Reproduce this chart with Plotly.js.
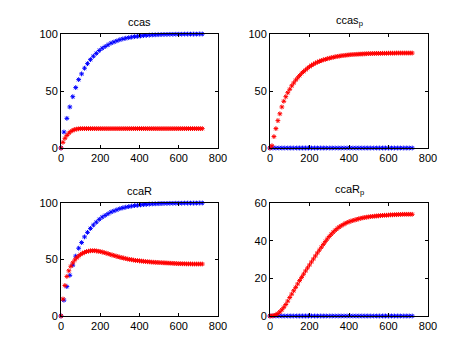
<!DOCTYPE html>
<html>
<head>
<meta charset="utf-8">
<script src="https://cdn.plot.ly/plotly-3.0.1.min.js"></script>
<style>html,body{margin:0;padding:0;background:#fff;}#chart{width:474px;height:355px;}</style>
</head>
<body>
<div id="chart"></div>
<script>
var tBlue = [0,15,30,45,60,75,90,105,120,135,150,165,180,195,210,225,240,255,270,285,300,315,330,345,360,375,390,405,420,435,450,465,480,495,510,525,540,555,570,585,600,615,630,645,660,675,690,705,720];
var tRed = [0,10,20,30,40,50,60,70,80,90,100,110,120,130,140,150,160,170,180,190,200,210,220,230,240,250,260,270,280,290,300,310,320,330,340,350,360,370,380,390,400,410,420,430,440,450,460,470,480,490,500,510,520,530,540,550,560,570,580,590,600,610,620,630,640,650,660,670,680,690,700,710,720];

var ccasBlue = [0,14,26,36,45,53,60,65,70,74,77.5,80.5,83,85.5,87.5,89,90.5,92,93,94,95,95.7,96.3,96.8,97.3,97.7,98,98.3,98.6,98.8,99,99.2,99.3,99.4,99.5,99.6,99.6,99.7,99.7,99.8,99.8,99.8,99.9,99.9,99.9,99.9,99.9,100,100];
var ccasRed = [0,5,8.5,11,13,14.5,15.5,16.2,16.6,16.8,17,17,17,17,17,17,17,17,17,17,17,17,17,17,17,17,17,17,17,17,17,17,17,17,17,17,17,17,17,17,17,17,17,17,17,17,17,17,17,17,17,17,17,17,17,17,17,17,17,17,17,17,17,17,17,17,17,17,17,17,17,17,17];

var ccasPBlue = [0,0,0,0,0,0,0,0,0,0,0,0,0,0,0,0,0,0,0,0,0,0,0,0,0,0,0,0,0,0,0,0,0,0,0,0,0,0,0,0,0,0,0,0,0,0,0,0,0];
var ccasPRed = [0,2,10,17,24,30,36,41,45,48.5,51.5,54.5,57,59.5,61.5,63.5,65.5,67,68.5,70,71.3,72.5,73.5,74.5,75.3,76,76.7,77.3,77.8,78.3,78.8,79.2,79.6,80,80.3,80.6,80.9,81.1,81.3,81.5,81.7,81.9,82,82.1,82.2,82.3,82.4,82.5,82.6,82.7,82.8,82.8,82.9,82.9,83,83,83,83.1,83.1,83.1,83.2,83.2,83.2,83.2,83.3,83.3,83.3,83.3,83.3,83.3,83.3,83.3,83.3];

var ccaRBlue = [0,14,26,36,45,53,60,65,70,74,77.5,80.5,83,85.5,87.5,89,90.5,92,93,94,95,95.7,96.3,96.8,97.3,97.7,98,98.3,98.6,98.8,99,99.2,99.3,99.4,99.5,99.6,99.6,99.7,99.7,99.8,99.8,99.8,99.9,99.9,99.9,99.9,99.9,100,100];
var ccaRRed = [0,15,27,35,40,44,47,49.5,51.5,53,54.5,55.5,56.3,57,57.4,57.7,57.8,57.8,57.6,57.3,57,56.6,56.1,55.6,55.1,54.5,54,53.5,53,52.5,52,51.6,51.2,50.8,50.4,50.1,49.8,49.5,49.2,49,48.8,48.6,48.4,48.2,48,47.9,47.7,47.6,47.5,47.4,47.3,47.2,47.1,47,46.9,46.8,46.7,46.6,46.5,46.4,46.3,46.3,46.2,46.2,46.1,46.1,46.1,46,46,46,46,46,46];

var ccaRPBlue = [0,0,0,0,0,0,0,0,0,0,0,0,0,0,0,0,0,0,0,0,0,0,0,0,0,0,0,0,0,0,0,0,0,0,0,0,0,0,0,0,0,0,0,0,0,0,0,0,0];
var ccaRPRed = [0,0.1,0.3,0.7,1.3,2.2,3.3,4.6,6.1,7.9,9.8,11.6,13.4,15.2,17,18.8,20.5,22.2,23.9,25.5,27.1,28.7,30.3,31.9,33.5,35,36.5,38,39.5,40.9,42.2,43.4,44.5,45.5,46.4,47.2,47.9,48.5,49.1,49.6,50,50.4,50.7,51,51.3,51.6,51.9,52.1,52.3,52.5,52.6,52.8,52.9,53,53.1,53.2,53.3,53.4,53.5,53.5,53.6,53.7,53.7,53.8,53.8,53.9,53.9,54,54,54,54,54,54];

var titles = ['ccas', 'ccas<sub>p</sub>', 'ccaR', 'ccaR<sub>p</sub>'];
var xTicks = [0,200,400,600,800];

var W = 474, H = 355;
function px(v){return v/W;}
function py(v){return 1 - v/H;}
var xDom = [[px(61), px(218)], [px(270), px(428)], [px(61), px(218)], [px(270), px(428)]];
var yDom = [[py(148), py(34)], [py(148), py(34)], [py(316), py(203)], [py(316), py(203)]];
var yRanges = [[0,100],[0,100],[0,100],[0,60]];
var yTicks = [[0,50,100],[0,50,100],[0,50,100],[0,20,40,60]];

var blues = [ccasBlue, ccasPBlue, ccaRBlue, ccaRPBlue];
var reds = [ccasRed, ccasPRed, ccaRRed, ccaRPRed];

var traces = [];
var layout = {
  width: W, height: H,
  margin: {l:0, r:0, t:0, b:0},
  paper_bgcolor: '#ffffff', plot_bgcolor: '#ffffff',
  showlegend: false,
  font: {family: 'Liberation Sans, Arial, sans-serif', size: 11, color: '#000'},
  annotations: []
};
for (var i = 0; i < 4; i++) {
  var sfx = i === 0 ? '' : String(i + 1);
  traces.push({x: tBlue, y: blues[i], xaxis: 'x' + sfx, yaxis: 'y' + sfx, mode: 'markers', type: 'scatter',
    marker: {symbol: 'asterisk-open', size: 4, color: '#0000ff', line: {color: '#0000ff', width: 1}}, cliponaxis: false});
  traces.push({x: tRed, y: reds[i], xaxis: 'x' + sfx, yaxis: 'y' + sfx, mode: 'markers', type: 'scatter',
    marker: {symbol: 'asterisk-open', size: 4, color: '#ff0000', line: {color: '#ff0000', width: 1}}, cliponaxis: false});
  var common = {showgrid: false, zeroline: false, showline: true, linecolor: '#000', linewidth: 1,
    mirror: 'ticks', ticks: 'inside', ticklen: 3, tickcolor: '#000', tickfont: {size: 11, color: '#000'}, fixedrange: true};
  layout['xaxis' + sfx] = Object.assign({}, common, {domain: xDom[i], range: [0, 800], tickvals: xTicks, ticktext: xTicks.map(String),
    anchor: 'y' + sfx});
  layout['yaxis' + sfx] = Object.assign({}, common, {domain: yDom[i], range: yRanges[i], tickvals: yTicks[i], ticktext: yTicks[i].map(String),
    anchor: 'x' + sfx});
  layout.annotations.push({text: titles[i], xref: 'paper', yref: 'paper', x: (xDom[i][0] + xDom[i][1]) / 2, y: yDom[i][1],
    xanchor: 'center', yanchor: 'bottom', yshift: 4, showarrow: false, font: {size: 11, color: '#000'}});
}
Plotly.newPlot('chart', traces, layout, {displayModeBar: false, staticPlot: true});
</script>
</body>
</html>
